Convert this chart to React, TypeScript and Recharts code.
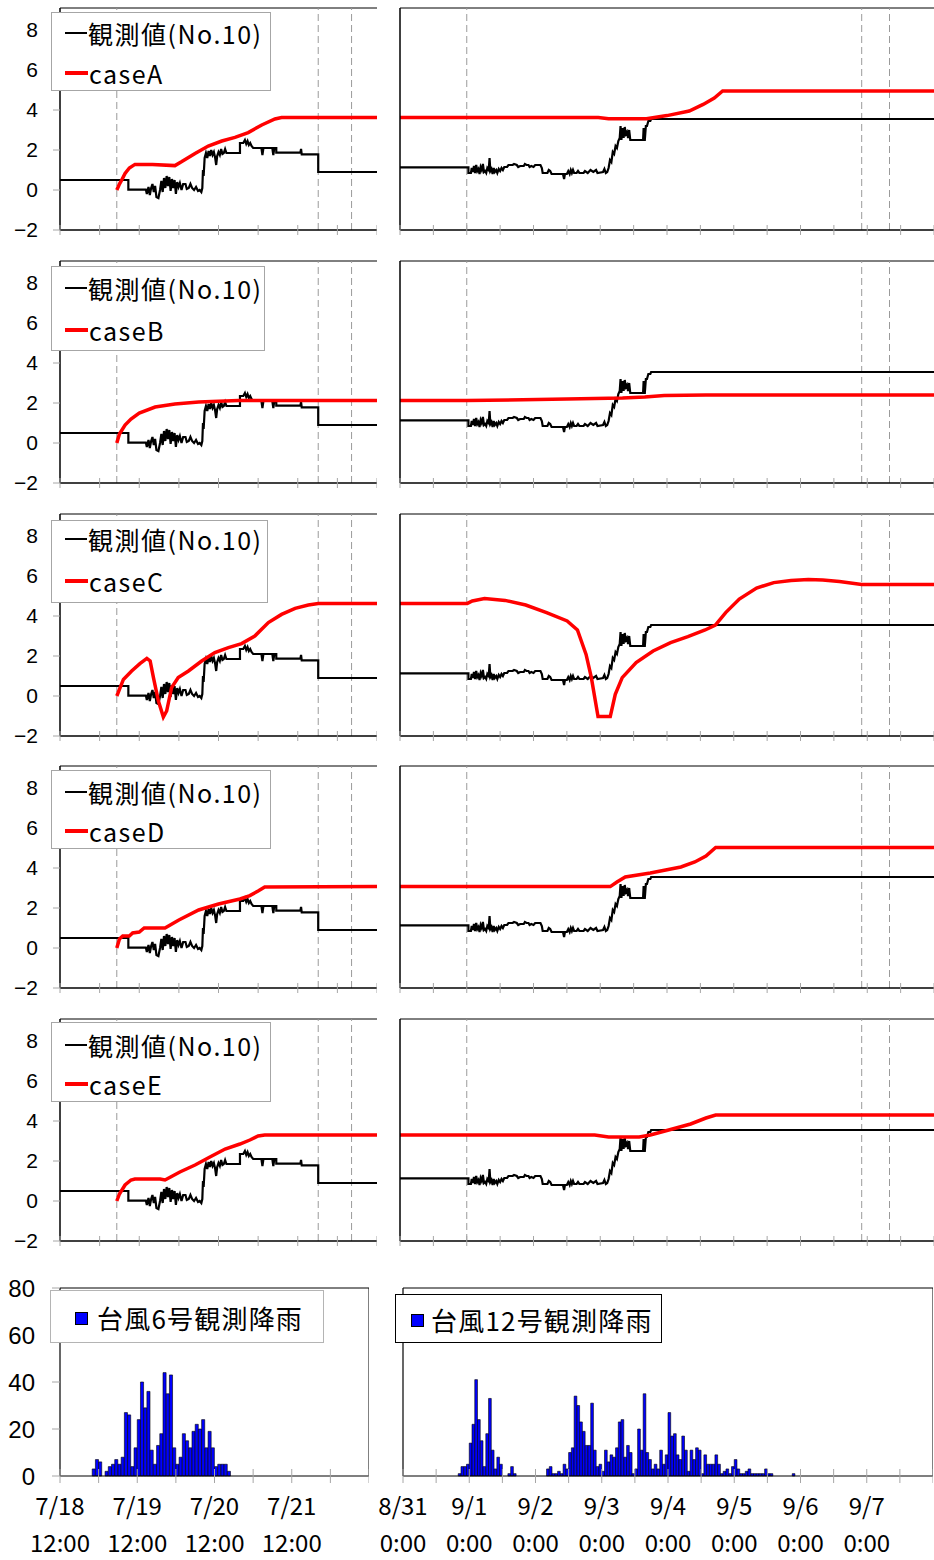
import React from "react";
import { LineChart, Line, XAxis, YAxis, ReferenceLine, ComposedChart, Bar } from "recharts";

const JFONT = '"Noto Sans CJK JP", "Noto Sans", sans-serif';
const NFONT = '"Liberation Sans", Arial, sans-serif';

// x = hours since 7/18 12:00 (typhoon No.6) / since 8/31 0:00 (typhoon No.12)
const obsT6: [number, number][] = [
  [0, 0.5], [20.7, 0.5], [20.7, 0.02], [26, 0.02], [26.3, -0.2], [26.8, 0.15], [27.2, -0.25], [27.6, 0.1],
  [28, 0.3], [28.4, -0.1], [28.8, 0.2], [29.2, -0.35], [29.8, -0.4], [30.3, 0.0], [30.7, 0.45], [31.1, -0.1],
  [31.5, 0.6], [31.9, 0.1], [32.3, 0.7], [32.7, 0.2], [33.1, 0.65], [33.5, -0.05], [33.9, 0.55], [34.3, 0.1],
  [34.7, 0.5], [35.1, -0.2], [35.5, 0.4], [35.9, 0.15], [36.3, 0.35], [36.8, 0.0], [37.3, 0.3], [38, 0.3],
  [38.4, 0.05], [39, 0.1], [39.5, 0.3], [40, 0.1], [40.6, 0.0], [41.2, 0.15], [41.8, -0.05], [42.3, 0.0],
  [42.8, -0.1], [43.1, 0.1], [43.3, 1.0], [43.5, 0.7], [43.8, 1.6], [44.2, 1.85], [44.6, 1.6], [45, 1.95],
  [45.4, 1.7], [45.8, 2.0], [46.2, 1.75], [46.6, 1.9], [47, 1.6], [47.3, 1.25], [47.6, 1.7], [48, 1.9],
  [48.4, 1.75], [48.8, 2.05], [49.2, 1.8], [49.6, 1.85], [50, 2.05], [50.4, 1.85], [54.5, 1.85], [54.5, 2.35],
  [55.5, 2.35], [56, 2.5], [56.4, 2.3], [56.8, 2.45], [57.2, 2.25], [57.6, 2.35], [58, 2.2], [58.5, 2.1],
  [61, 2.1], [61.3, 1.75], [61.6, 2.1], [64.3, 2.1], [64.6, 1.75], [64.9, 2.1], [65.5, 2.1], [65.5, 1.87],
  [72.8, 1.87], [73, 2.05], [73.2, 1.78], [78.2, 1.78], [78.2, 0.9], [96, 0.9],
];

const obsT12: [number, number][] = [
  [0, 1.13], [24.6, 1.13], [24.6, 0.85], [25.5, 0.85], [25.8, 1.1], [26.2, 0.9], [26.6, 1.2], [27, 0.85],
  [27.4, 1.25], [27.8, 0.95], [28.2, 1.05], [28.6, 0.8], [29, 1.15], [29.4, 1.0], [29.8, 1.3], [30.2, 0.9],
  [30.6, 0.95], [31, 0.85], [31.4, 1.1], [31.9, 1.0], [32.2, 1.6], [32.5, 0.95], [32.9, 1.05], [33.3, 0.8],
  [33.7, 1.1], [34.1, 0.9], [34.6, 1.0], [35, 0.85], [35.5, 1.05], [36, 0.95], [36.5, 1.1], [37, 1.0],
  [37.5, 1.15], [38.5, 1.15], [39, 1.25], [40.5, 1.25], [41, 1.3], [42, 1.25], [42.5, 1.15], [43.2, 1.2],
  [44.5, 1.2], [44.9, 1.3], [45.5, 1.25], [46.2, 1.25], [46.6, 1.15], [47.2, 1.2], [48, 1.15], [48.6, 1.25],
  [50.5, 1.25], [51, 1.1], [51.3, 0.85], [53, 0.85], [53.5, 1.0], [54, 0.95], [54.5, 0.8], [58.6, 0.8],
  [59, 0.55], [59.3, 0.8], [60, 0.8], [60.5, 0.95], [61, 0.8], [61.4, 1.0], [61.8, 0.85], [62.2, 1.0],
  [62.6, 0.85], [63.5, 0.85], [64, 0.95], [64.5, 0.85], [66, 0.85], [66.5, 0.95], [67.5, 0.85], [68.5, 1.0],
  [69.5, 0.9], [70.5, 1.0], [71, 0.85], [73, 0.9], [73.5, 1.05], [74, 0.85], [74.5, 0.9], [75, 1.1],
  [75.5, 1.5], [76, 1.4], [76.5, 1.9], [77, 1.8], [77.5, 2.2], [78, 2.1], [78.5, 2.45], [79, 2.6],
  [79.3, 3.2], [79.6, 2.5], [80, 3.1], [80.4, 2.6], [80.8, 3.15], [81.2, 2.8], [81.6, 2.9], [82, 2.6],
  [82.4, 3.0], [82.8, 2.5], [87.4, 2.5], [87.6, 3.1], [88, 2.45], [88.4, 3.2], [88.8, 3.2], [89.3, 3.45],
  [90, 3.45], [90.3, 3.55], [192, 3.55],
];

const caseA_T6: [number, number][] = [[17.2, 0], [18, 0.3], [18.7, 0.5], [19.7, 0.83], [21, 1.1], [22.7, 1.28], [28, 1.28], [34.8, 1.22], [36.9, 1.42], [40.9, 1.83], [44.9, 2.2], [49, 2.45], [53, 2.63], [57, 2.87], [61.1, 3.25], [65.1, 3.55], [67.1, 3.62], [96, 3.62]];
const caseA_T12: [number, number][] = [[0, 3.62], [71.3, 3.62], [75, 3.56], [88.6, 3.56], [96, 3.72], [104, 3.95], [109, 4.28], [113, 4.6], [116, 4.95], [192, 4.95]];
const caseB_T6: [number, number][] = [[17.2, 0], [18, 0.45], [19.7, 0.9], [21.5, 1.2], [24, 1.5], [28.8, 1.8], [34.8, 1.95], [42, 2.05], [54, 2.12], [96, 2.13]];
const caseB_T12: [number, number][] = [[0, 2.12], [24, 2.12], [60, 2.2], [80, 2.25], [88, 2.3], [95, 2.38], [110, 2.4], [192, 2.4]];
const caseC_T6: [number, number][] = [[17.2, 0], [19.2, 0.83], [21.7, 1.25], [24.2, 1.62], [26.3, 1.88], [27.3, 1.75], [28.3, 0.92], [29.8, -0.25], [31.3, -1.05], [32.3, -0.75], [33.8, 0.42], [35.8, 0.92], [38.9, 1.25], [42.9, 1.75], [46.9, 2.17], [51, 2.42], [55, 2.62], [59, 3.0], [63.1, 3.67], [67.1, 4.08], [71.2, 4.38], [75.2, 4.55], [78.2, 4.62], [96, 4.62]];
const caseC_T12: [number, number][] = [[0, 4.63], [24.2, 4.63], [26, 4.75], [30.4, 4.87], [37.8, 4.78], [45.2, 4.55], [52.7, 4.17], [60.1, 3.75], [63.8, 3.3], [66.9, 2.08], [68.8, 0.92], [71.2, -1.03], [75.6, -1.03], [77.4, 0.08], [79.9, 0.92], [84.9, 1.67], [91, 2.25], [97.3, 2.67], [103.5, 2.97], [109.7, 3.3], [113.4, 3.55], [117.1, 4.17], [122, 4.85], [128.2, 5.4], [134.4, 5.67], [140.6, 5.78], [146.8, 5.83], [152, 5.8], [158, 5.72], [166, 5.58], [192, 5.58]];
const caseD_T6: [number, number][] = [[17.2, 0], [18, 0.45], [19, 0.6], [21, 0.6], [22, 0.75], [24, 0.8], [25.5, 1.0], [31.8, 1.0], [36, 1.4], [42, 1.9], [48, 2.2], [54.5, 2.45], [57.5, 2.62], [60, 2.85], [62, 3.05], [96, 3.07]];
const caseD_T12: [number, number][] = [[0, 3.07], [75.6, 3.07], [78, 3.3], [81, 3.55], [90, 3.75], [101, 4.05], [106, 4.3], [110, 4.6], [113.5, 5.03], [192, 5.03]];
const caseE_T6: [number, number][] = [[17.2, 0], [18, 0.35], [19.7, 0.8], [21.5, 1.05], [22.7, 1.1], [30.3, 1.1], [31.8, 1.05], [33.5, 1.2], [36.3, 1.45], [40.9, 1.8], [45.4, 2.2], [50, 2.6], [54.5, 2.85], [57.5, 3.05], [60, 3.25], [62, 3.3], [96, 3.3]];
const caseE_T12: [number, number][] = [[0, 3.3], [70, 3.3], [75, 3.2], [86, 3.2], [90, 3.3], [94, 3.45], [104.5, 3.85], [110, 4.15], [113.5, 4.3], [192, 4.3]];

const caseNames = ["caseA", "caseB", "caseC", "caseD", "caseE"];
const obsName = "観測値(No.10)";

// hourly rainfall (mm)
const rain6Start = 10;
const rain6Values = [3, 7, 6, 0, 2, 4, 5, 7, 5, 8, 27, 26, 4, 12, 24, 40, 29, 36, 11, 5, 13, 18, 44, 35, 43, 12, 5, 8, 18, 15, 12, 19, 22, 20, 24, 12, 19, 12, 4, 5, 5, 5, 2];
const rain12Groups: [number, number[]][] = [
  [20, [1, 4, 4, 5, 14, 22, 41, 24, 15, 4, 18, 33, 11, 3, 8, 5]],
  [38, [1, 4, 1]],
  [52, [3, 4, 1, 1, 2, 1, 5, 3, 10, 12, 34, 30, 23, 19, 13, 13, 31, 11, 4, 5, 2, 11, 6, 9, 8, 12, 23, 24, 8, 13, 10, 1, 3, 20, 11, 35, 10, 7, 3, 5, 3, 11, 5, 9, 27, 17, 18, 9, 7, 17, 11, 2, 11, 7, 12, 11, 1, 9, 5, 5, 5, 9, 5, 1, 2, 3, 1, 4, 7, 3, 1, 1, 2, 3, 1, 1, 1, 1, 1, 3, 1, 1]],
  [141, [1]],
];
const rain6Name = "台風6号観測降雨";
const rain12Name = "台風12号観測降雨";

const yTicksLine = [-2, 0, 2, 4, 6, 8];
const yTicksRain = [0, 20, 40, 60, 80];
const dateLabels6 = ["7/18", "7/19", "7/20", "7/21"];
const timeLabel6 = "12:00";
const dateLabels12 = ["8/31", "9/1", "9/2", "9/3", "9/4", "9/5", "9/6", "9/7"];
const timeLabel12 = "0:00";
const dashT6 = [17.2, 78.2, 88.3];
const dashT12 = [24, 166, 176];

const toPts = (a: [number, number][]) => a.map(([h, v]) => ({ h, v }));
const rain6 = rain6Values.map((v, i) => ({ x: rain6Start + i + 0.5, v }));
const rain12 = rain12Groups.flatMap(([s, vals]) => vals.map((v, i) => ({ x: s + i + 0.5, v })));

const caseT6 = [caseA_T6, caseB_T6, caseC_T6, caseD_T6, caseE_T6];
const caseT12 = [caseA_T12, caseB_T12, caseC_T12, caseD_T12, caseE_T12];

const rowTops = [8, 261, 514, 766, 1019];
// legend box: [top offset, height, width, line1 center, line2 center]
const legendGeo = [
  [4, 79, 220, 25, 65],
  [5, 85, 214, 27, 69],
  [6, 83, 217, 25, 67],
  [4, 79, 220, 26, 65],
  [3, 80, 220, 26, 65],
];

const PLOT_H = 222;
const fmtY = (v: number) => (v < 0 ? `\u2212${-v}` : `${v}`);
const range = (max: number, step: number) => {
  const r: number[] = [];
  for (let i = 0; i <= max; i += step) r.push(i);
  return r;
};

const makeXTick = (len: number, labels?: Record<number, [string, string]>) => (props: any) => {
  const { x, y, payload } = props;
  const lab = labels ? labels[payload.value] : undefined;
  return (
    <g>
      <line x1={x} x2={x} y1={y - len} y2={y + len} stroke="#a6a6a6" strokeWidth={1} />
      {lab ? (
        <g>
          <text x={x} y={y + 39} textAnchor="middle" fontSize={24} fontFamily={JFONT} fill="#000">{lab[0]}</text>
          <text x={x} y={y + 76} textAnchor="middle" fontSize={24} fontFamily={JFONT} fill="#000">{lab[1]}</text>
        </g>
      ) : null}
    </g>
  );
};

const lineXTick = makeXTick(5);

function LinePanel(p: {
  left: number; top: number; width: number; yw: number; xmax: number;
  obs: [number, number][]; model: [number, number][]; dashes: number[]; labels: boolean;
}) {
  return (
    <div style={{ position: "absolute", left: p.left, top: p.top - 2 }}>
      <LineChart width={p.width} height={PLOT_H + 2 + 20} margin={{ top: 2, right: 0, bottom: 0, left: 0 }}>
        <XAxis type="number" dataKey="h" domain={[0, p.xmax]} ticks={range(p.xmax, 12)} interval={0}
          height={20} axisLine={{ stroke: "#000", strokeWidth: 1.5 }} tickLine={false} tickSize={0} tickMargin={0}
          tick={lineXTick} />
        <YAxis type="number" domain={[-2, 9.1]} ticks={yTicksLine} interval={0} width={p.yw}
          axisLine={{ stroke: "#000", strokeWidth: 1.5 }} tickLine={{ stroke: "#a6a6a6" }} tickSize={7} tickMargin={15}
          tick={p.labels ? { fill: "#000", fontSize: 21, fontFamily: NFONT } : false} tickFormatter={fmtY} />
        <ReferenceLine y={9.1} stroke="#000" strokeWidth={1} />
        {p.dashes.map((d) => (
          <ReferenceLine key={d} x={d} stroke="#9a9a9a" strokeWidth={1} strokeDasharray="7 4" />
        ))}
        <Line data={toPts(p.obs)} dataKey="v" type="linear" stroke="#000" strokeWidth={2.2} dot={false} isAnimationActive={false} />
        <Line data={toPts(p.model)} dataKey="v" type="linear" stroke="#ff0000" strokeWidth={3.5} dot={false} isAnimationActive={false} />
      </LineChart>
    </div>
  );
}

function LineLegend({ T, geo, name }: { T: number; geo: number[]; name: string }) {
  const [off, h, w, l1, l2] = geo;
  const row = (c: number, sym: React.ReactNode, text: string) => (
    <div style={{ position: "absolute", left: 13, top: c - off - 17, height: 32, display: "flex", alignItems: "center", whiteSpace: "nowrap" }}>
      {sym}
      <span style={{ marginLeft: 1, lineHeight: "32px" }}>{text}</span>
    </div>
  );
  return (
    <div style={{
      position: "absolute", left: 51, top: T + off, width: w, height: h, boxSizing: "border-box",
      border: "1px solid #a6a6a6", background: "#fff", fontFamily: JFONT, fontSize: 25, letterSpacing: 1.5, color: "#000",
    }}>
      {row(l1, <span style={{ display: "inline-block", width: 22, height: 2, background: "#000" }} />, obsName)}
      {row(l2, <span style={{ display: "inline-block", width: 23, height: 3.5, background: "#ff0000" }} />, name)}
    </div>
  );
}

function RainPanel(p: {
  left: number; width: number; yw: number; xmax: number; data: { x: number; v: number }[];
  barSize: number; labels: Record<number, [string, string]>; showY: boolean;
}) {
  return (
    <div style={{ position: "absolute", left: p.left, top: 1270 }}>
      <ComposedChart width={p.width} height={290} data={p.data} margin={{ top: 18, right: 0, bottom: 0, left: 0 }}>
        <XAxis type="number" dataKey="x" domain={[0, p.xmax]} ticks={range(p.xmax, 12)} interval={0}
          height={84} axisLine={{ stroke: "#000", strokeWidth: 1.2 }} tickLine={false} tickSize={0} tickMargin={0}
          tick={makeXTick(7, p.labels)} />
        <YAxis type="number" domain={[0, 80]} ticks={yTicksRain} interval={0} width={p.yw}
          axisLine={{ stroke: "#000", strokeWidth: 1.2 }} tickLine={{ stroke: "#a6a6a6" }} tickSize={8} tickMargin={17}
          tick={p.showY ? { fill: "#000", fontSize: 24, fontFamily: NFONT } : false} />
        <ReferenceLine y={80} stroke="#000" strokeWidth={1} />
        <ReferenceLine x={p.xmax} stroke="#000" strokeWidth={1} />
        <Bar dataKey="v" fill="#0000ff" stroke="#000" strokeWidth={0.6} barSize={p.barSize} isAnimationActive={false} />
      </ComposedChart>
    </div>
  );
}

function RainLegend({ left, top, w, h, sq, gap, c, border, text }: any) {
  return (
    <div style={{
      position: "absolute", left, top, width: w, height: h, boxSizing: "border-box", border: `1px solid ${border}`,
      background: "#fff", fontFamily: JFONT, fontSize: 26, letterSpacing: 1.2, color: "#000",
    }}>
      <div style={{ position: "absolute", left: sq, top: c - top - 17, height: 34, display: "flex", alignItems: "center", whiteSpace: "nowrap" }}>
        <span style={{ display: "inline-block", width: 11, height: 11, background: "#0000ff", border: "1px solid #000" }} />
        <span style={{ marginLeft: gap, lineHeight: "34px" }}>{text}</span>
      </div>
    </div>
  );
}

export default function App() {
  const labels6: Record<number, [string, string]> = {};
  dateLabels6.forEach((d, i) => (labels6[i * 24] = [d, timeLabel6]));
  const labels12: Record<number, [string, string]> = {};
  dateLabels12.forEach((d, i) => (labels12[i * 24] = [d, timeLabel12]));
  return (
    <div style={{ position: "absolute", left: 0, top: 0, width: 934, height: 1560, background: "#fff", overflow: "hidden" }}>
      {caseNames.map((name, i) => (
        <React.Fragment key={name}>
          <LinePanel left={0} top={rowTops[i]} width={377} yw={60} xmax={96} obs={obsT6} model={caseT6[i]} dashes={dashT6} labels />
          <LinePanel left={380} top={rowTops[i]} width={554} yw={20} xmax={192} obs={obsT12} model={caseT12[i]} dashes={dashT12} labels={false} />
          <LineLegend T={rowTops[i]} geo={legendGeo[i]} name={name} />
        </React.Fragment>
      ))}
      <RainPanel left={0} width={369} yw={60} xmax={96} data={rain6} barSize={3.1} labels={labels6} showY />
      <RainPanel left={343} width={590} yw={60} xmax={192} data={rain12} barSize={2.7} labels={labels12} showY={false} />
      <RainLegend left={50} top={1290} w={274} h={53} sq={24} gap={9} c={1317} border="#b4b4b4" text={rain6Name} />
      <RainLegend left={395} top={1294} w={267} h={49} sq={15} gap={7} c={1319} border="#000" text={rain12Name} />
    </div>
  );
}
